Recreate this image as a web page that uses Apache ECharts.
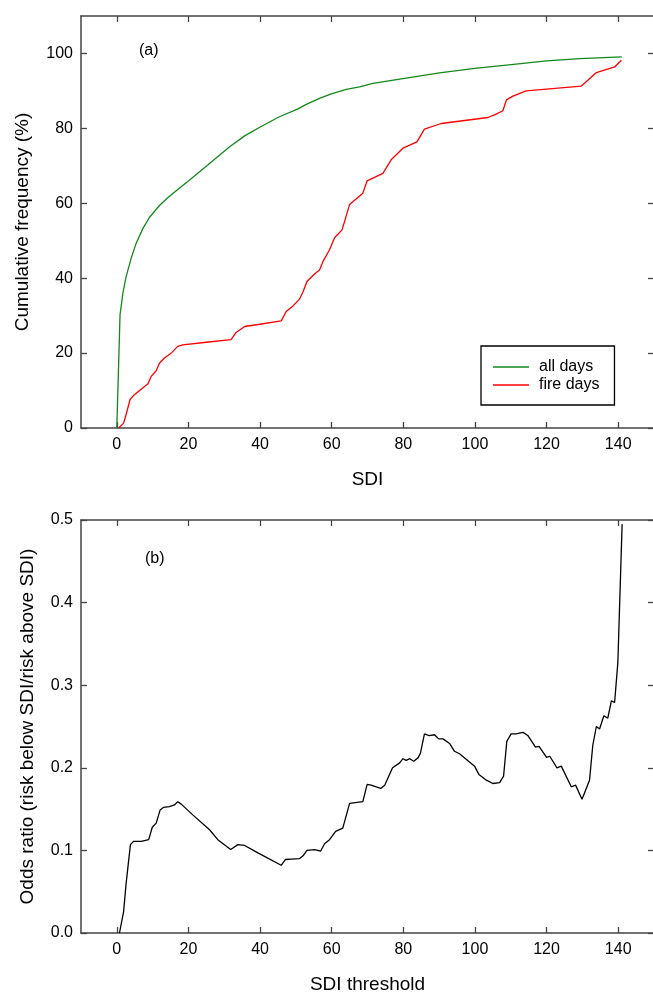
<!DOCTYPE html>
<html>
<head>
<meta charset="utf-8">
<script src="https://cdn.jsdelivr.net/npm/echarts@6/dist/echarts.min.js"></script>
<style>
  html, body { margin: 0; padding: 0; background: #fff; }
  #main { width: 653px; height: 992px; }
</style>
</head>
<body>
<div id="main"></div>
<script>
// values
var xTicks = [0, 20, 40, 60, 80, 100, 120, 140];
var freqTicks = [0, 20, 40, 60, 80, 100];

// (a) cumulative frequency, all days
var allX = [0, 0.9, 1.7, 2.6, 4.0, 5.4, 7.3, 9.1, 11.9, 14.7, 19.8, 25.4, 31.5, 35.7, 39.9, 45.4, 50.6, 52.9, 56.6, 59.9, 64.1, 67.8, 71.5, 79.9, 90.1, 99.9, 108.8, 120, 129.3, 141];
var allY = [0, 30.2, 36, 40.4, 45.3, 49.3, 53.3, 56.2, 59.4, 61.9, 65.8, 70.2, 75.1, 78, 80.3, 83.1, 85.2, 86.4, 88, 89.2, 90.4, 91.1, 92, 93.3, 94.8, 96, 96.9, 98, 98.6, 99.1];

// (a) cumulative frequency, fire days
var fireX = [0.5, 1.0, 1.9, 2.6, 3.7, 4.9, 8.7, 9.6, 11.0, 11.9, 13.3, 15.2, 17.0, 18.4, 25.0, 31.9, 33.3, 35.7, 39.9, 45.9, 47.3, 49.2, 51.0, 52.0, 53.1, 55.2, 56.6, 57.7, 59.4, 60.8, 62.9, 65.0, 68.7, 69.9, 74.3, 76.6, 79.9, 83.8, 85.9, 90.6, 103.6, 105.5, 107.8, 108.8, 110.6, 114.3, 129.7, 131.6, 133.9, 139, 140.9];
var fireY = [0, 0, 1.3, 3.6, 7.6, 8.9, 11.8, 13.8, 15.3, 17.3, 18.7, 20, 21.8, 22.2, 22.9, 23.6, 25.5, 27.1, 27.7, 28.6, 31.1, 32.6, 34.4, 36.4, 39.1, 41.1, 42.2, 44.7, 47.6, 50.8, 52.9, 59.7, 62.7, 66.0, 68, 71.6, 74.7, 76.4, 79.8, 81.3, 82.9, 83.6, 84.7, 87.6, 88.6, 90, 91.3, 92.9, 94.9, 96.4, 98.2];

// (b) odds ratio against SDI threshold
var oddsX = [0.74, 1.9, 2.6, 3.8, 4.7, 6.8, 8.9, 9.9, 11.0, 12.1, 13.0, 14.7, 16.1, 17.0, 18.0, 21.2, 25.9, 28.2, 31.8, 33.8, 35.7, 39.4, 45.9, 47.1, 48.7, 51.0, 52.0, 53.1, 55.2, 56.9, 58.0, 59.4, 61.1, 63.1, 65.0, 68.7, 69.9, 71.0, 73.7, 74.8, 77.0, 79.0, 79.9, 80.8, 81.8, 82.9, 84.1, 84.8, 85.9, 87.2, 88.7, 89.9, 91.1, 93.0, 94.3, 95.7, 99.9, 101.1, 103.2, 105.0, 106.9, 108.0, 108.9, 110.1, 111.5, 113.4, 114.8, 116.9, 117.9, 120.0, 120.9, 122.9, 124.1, 126.9, 128.1, 129.9, 132.0, 132.9, 133.9, 134.8, 136.0, 137.1, 138.1, 139.0, 139.9, 141.1];
var oddsY = [0, 0.026, 0.060, 0.107, 0.111, 0.111, 0.113, 0.128, 0.133, 0.149, 0.152, 0.153, 0.155, 0.159, 0.156, 0.143, 0.125, 0.113, 0.101, 0.107, 0.106, 0.097, 0.082, 0.089, 0.0895, 0.090, 0.0935, 0.100, 0.101, 0.099, 0.108, 0.113, 0.123, 0.127, 0.157, 0.159, 0.180, 0.179, 0.175, 0.179, 0.200, 0.206, 0.211, 0.209, 0.211, 0.208, 0.212, 0.218, 0.241, 0.239, 0.240, 0.235, 0.235, 0.229, 0.220, 0.217, 0.202, 0.192, 0.185, 0.181, 0.182, 0.190, 0.232, 0.241, 0.241, 0.243, 0.239, 0.225, 0.226, 0.2125, 0.214, 0.200, 0.202, 0.177, 0.179, 0.162, 0.185, 0.227, 0.250, 0.247, 0.263, 0.260, 0.281, 0.279, 0.327, 0.495];

function zip(xs, ys) {
    var out = [];
    for (var i = 0; i < xs.length; i++) out.push([xs[i], ys[i]]);
    return out;
}

var FONT = 'Liberation Sans, Arial, sans-serif';
var AXIS_COLOR = '#444';

// bottom/left axes carry labels, top/right ones only mirror the ticks
function xAxisFor(grid, pos, name) {
    var main = pos === 'bottom';
    return {
        type: 'value', gridIndex: grid, position: pos,
        min: -10, max: 150,
        name: main ? name : '', nameLocation: 'middle', nameGap: 42,
        nameTextStyle: { fontFamily: FONT, fontSize: 19, color: '#000' },
        axisLine: { show: true, onZero: false, lineStyle: { color: AXIS_COLOR, width: 1.5 } },
        axisTick: { show: true, inside: true, length: 6, customValues: xTicks, lineStyle: { color: AXIS_COLOR, width: 1.3 } },
        axisLabel: { show: main, customValues: xTicks, margin: 9, fontFamily: FONT, fontSize: 16, color: '#000' },
        splitLine: { show: false }
    };
}

function yAxisFor(grid, pos, opt) {
    var main = pos === 'left';
    var ax = {
        type: 'value', gridIndex: grid, position: pos,
        min: opt.min, max: opt.max,
        name: main ? opt.name : '', nameLocation: 'middle', nameGap: opt.gap,
        nameTextStyle: { fontFamily: FONT, fontSize: 19, color: '#000' },
        axisLine: { show: true, onZero: false, lineStyle: { color: AXIS_COLOR, width: 1.5 } },
        axisTick: { show: true, inside: true, length: 6, lineStyle: { color: AXIS_COLOR, width: 1.3 } },
        axisLabel: { show: main, margin: 8, fontFamily: FONT, fontSize: 16, color: '#000', formatter: opt.fmt },
        splitLine: { show: false }
    };
    if (opt.ticks) {
        ax.axisTick.customValues = opt.ticks;
        ax.axisLabel.customValues = opt.ticks;
    } else {
        ax.interval = opt.interval;
    }
    return ax;
}

var myChart = echarts.init(document.getElementById('main'));

var option = {
    animation: false,
    backgroundColor: '#fff',
    grid: [
        { left: 81, top: 16, width: 573, height: 412, containLabel: false, outerBoundsMode: 'none' },
        { left: 81, top: 520, width: 573, height: 413, containLabel: false, outerBoundsMode: 'none' }
    ],
    xAxis: [
        xAxisFor(0, 'bottom', 'SDI'),
        xAxisFor(0, 'top'),
        xAxisFor(1, 'bottom', 'SDI threshold'),
        xAxisFor(1, 'top')
    ],
    yAxis: [
        yAxisFor(0, 'left', { min: 0, max: 110, ticks: freqTicks, name: 'Cumulative frequency (%)', gap: 49 }),
        yAxisFor(0, 'right', { min: 0, max: 110, ticks: freqTicks }),
        yAxisFor(1, 'left', { min: 0, max: 0.5, interval: 0.1, name: 'Odds ratio (risk below SDI/risk above SDI)', gap: 44,
            fmt: function (v) { return v.toFixed(1); } }),
        yAxisFor(1, 'right', { min: 0, max: 0.5, interval: 0.1 })
    ],
    legend: {
        data: ['all days', 'fire days'],
        orient: 'vertical',
        left: 481, top: 346,
        padding: [12, 15, 11, 12],
        itemGap: 0,
        itemWidth: 36, itemHeight: 1.5,
        icon: 'rect',
        borderColor: '#000', borderWidth: 1.3,
        textStyle: { fontFamily: FONT, fontSize: 16, color: '#000', lineHeight: 18, padding: [0, 0, 0, 5] }
    },
    graphic: [
        { type: 'text', left: 139, top: 43, style: { text: '(a)', fontFamily: FONT, fontSize: 16, fill: '#000' } },
        { type: 'text', left: 145, top: 551, style: { text: '(b)', fontFamily: FONT, fontSize: 16, fill: '#000' } }
    ],
    series: [
        {
            name: 'all days', type: 'line', xAxisIndex: 0, yAxisIndex: 0,
            data: zip(allX, allY), showSymbol: false, symbol: 'none',
            lineStyle: { color: '#12891a', width: 1.3 }, itemStyle: { color: '#12891a' }
        },
        {
            name: 'fire days', type: 'line', xAxisIndex: 0, yAxisIndex: 0,
            data: zip(fireX, fireY), showSymbol: false, symbol: 'none',
            lineStyle: { color: '#ff0000', width: 1.3 }, itemStyle: { color: '#ff0000' }
        },
        {
            name: 'odds ratio', type: 'line', xAxisIndex: 2, yAxisIndex: 2,
            data: zip(oddsX, oddsY), showSymbol: false, symbol: 'none',
            lineStyle: { color: '#000', width: 1.3 }, itemStyle: { color: '#000' }
        }
    ]
};

myChart.setOption(option);
</script>
</body>
</html>
